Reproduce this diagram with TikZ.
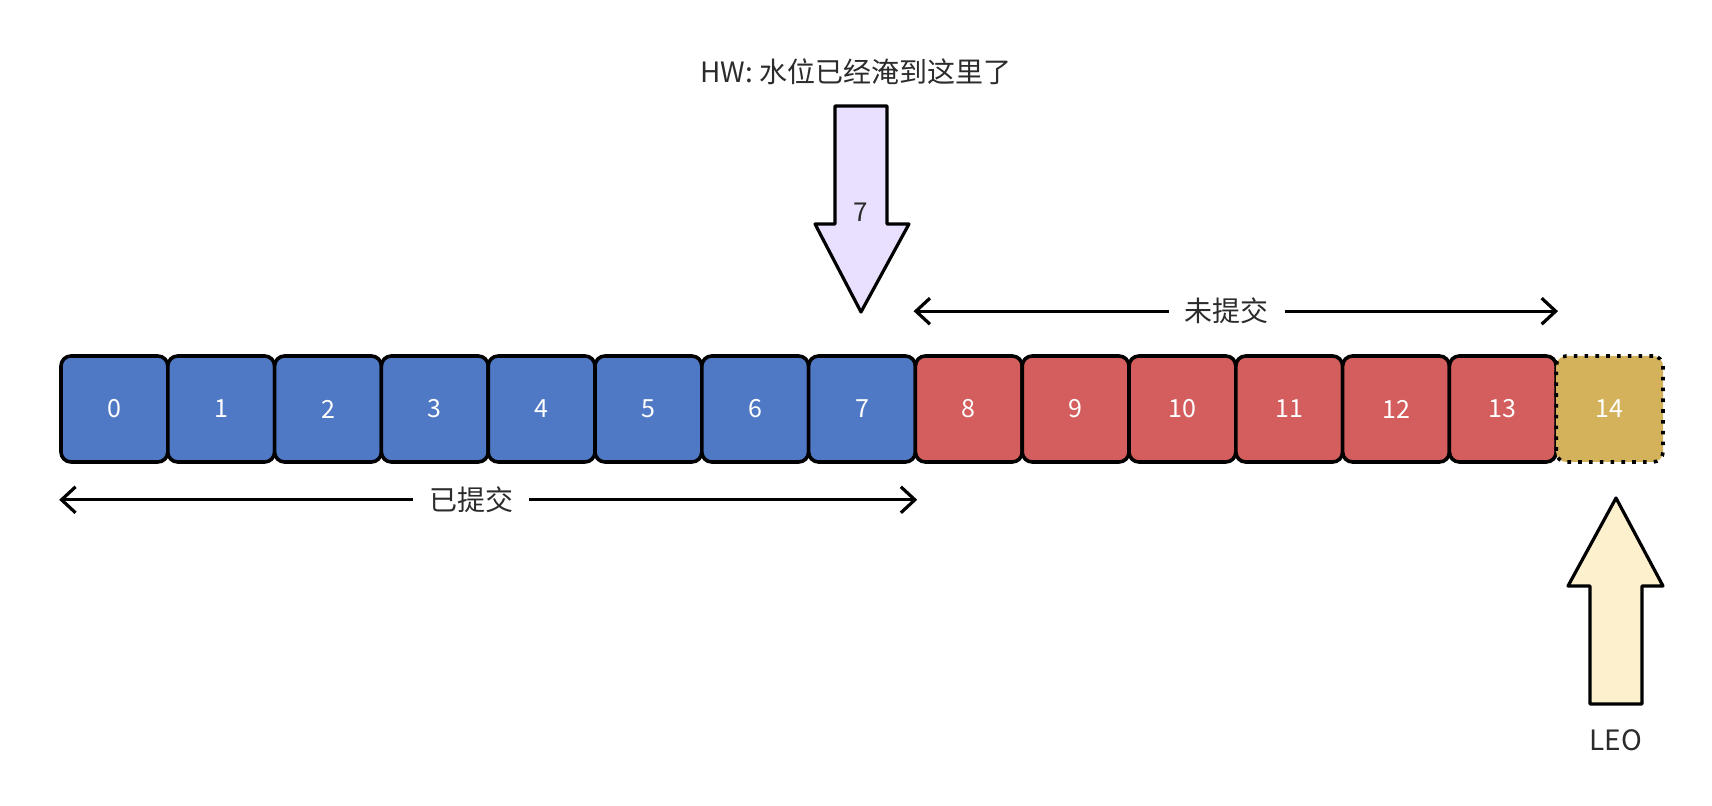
\documentclass[tikz,border=0pt]{standalone}
\usepackage{fontspec}
\setmainfont{Noto Sans CJK SC}
\usetikzlibrary{arrows.meta}
\usetikzlibrary{positioning}

\definecolor{commitblue}{HTML}{4F78C5}
\definecolor{pendingred}{HTML}{D45D5D}
\definecolor{leogold}{HTML}{D4B25B}
\definecolor{hwfill}{HTML}{E8E0FE}
\definecolor{leofill}{HTML}{FDF0CD}
\definecolor{labelgray}{HTML}{2B2B2B}

\begin{document}
\begin{tikzpicture}[x=0.5pt,y=-0.5pt,
    logbox/.style={draw=black, line width=1.8pt, rounded corners=5pt, minimum width=53.4pt, minimum height=53pt, inner sep=0pt, text=white, font=\fontsize{12.5}{14}\selectfont},
    span/.style={{Straight Barb[length=7pt,width=13pt]}-{Straight Barb[length=7pt,width=13pt]}, line width=1.6pt},
    spanlabel/.style={fill=white, text=labelgray, inner xsep=8pt, font=\fontsize{14}{16}\selectfont},
    blockarrow/.style={draw=black, line width=1.6pt, line join=round}]
            \useasboundingbox (0,0) rectangle (1712,806);

            % log entries
            \foreach \i in {0,...,7}
                \node[logbox, fill=commitblue] (b\i) at (114.4+106.8*\i,409) {\i};
            \foreach \i in {8,...,13}
                \node[logbox, fill=pendingred] (b\i) at (114.4+106.8*\i,409) {\i};
            \node[logbox, fill=leogold, dash pattern=on 1.8pt off 3.6pt] (b14) at (114.4+106.8*14,409) {14};

            % committed / uncommitted spans
            \draw[span] ([yshift=-18pt]b0.south west) -- node[spanlabel, pos=0.48]{已提交} ([yshift=-18pt]b7.south east);
            \draw[span] ([yshift=21.5pt]b8.north west) -- node[spanlabel, pos=0.486]{未提交} ([yshift=21.5pt]b13.north east);

            % high watermark
            \draw[blockarrow, fill=hwfill] (835,106) -- (887,106) -- (887,224) -- (909,224) -- (861,312) -- (815,224) -- (835,224) -- cycle;
            \node[text=labelgray, font=\fontsize{13}{14}\selectfont] (hwval) at (861,212) {7};
            \node[text=labelgray, font=\fontsize{14}{16}\selectfont] (hw) at (856,72) {HW: 水位已经淹到这里了};

            % log end offset
            \draw[blockarrow, fill=leofill] (1616,498) -- (1663,586) -- (1642,586) -- (1642,704) -- (1590,704) -- (1590,586) -- (1568,586) -- cycle;
            \node[text=labelgray, font=\fontsize{14}{16}\selectfont] (leo) at (1616,740) {LEO};

            \end{tikzpicture}
\end{document}
